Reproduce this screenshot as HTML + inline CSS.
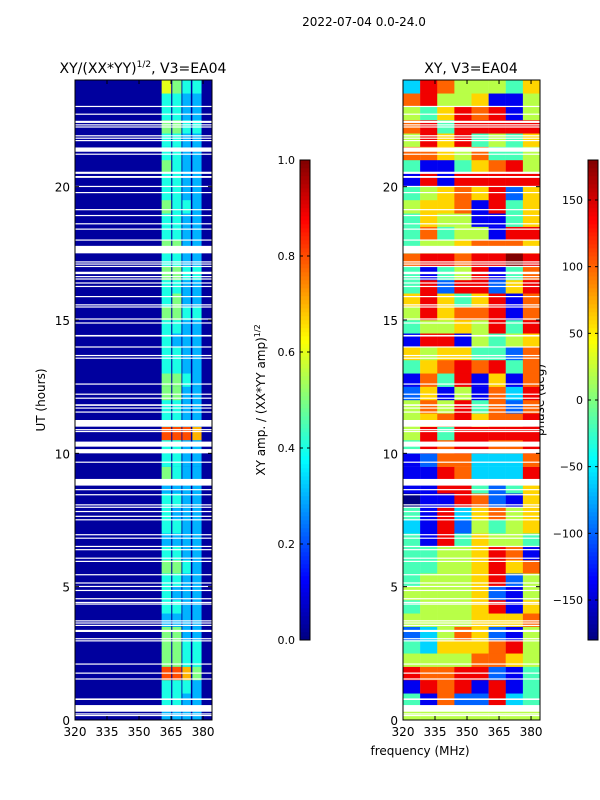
<!DOCTYPE html>
<html><head><meta charset="utf-8"><style>
body{margin:0;background:#fff;}
svg{display:block;font-family:"DejaVu Sans","Liberation Sans",sans-serif;}
</style></head><body>
<svg id="fig" width="600" height="800" viewBox="0 0 600 800" xmlns="http://www.w3.org/2000/svg">
<text x="364" y="26" font-size="12" text-anchor="middle">2022-07-04 0.0-24.0</text>
<text x="143" y="73" font-size="14" text-anchor="middle">XY/(XX*YY)<tspan font-size="9" dy="-6">1/2</tspan><tspan dy="6">, V3=EA04</tspan></text>
<text x="471" y="73" font-size="14" text-anchor="middle">XY, V3=EA04</text>
<text transform="translate(45,400) rotate(-90)" font-size="12" text-anchor="middle">UT (hours)</text>
<text transform="translate(265,400) rotate(-90)" font-size="12" text-anchor="middle">XY amp. / (XX*YY amp)<tspan font-size="8" dy="-5">1/2</tspan></text>
<text transform="translate(544,400) rotate(-90)" font-size="12" text-anchor="middle">phase (deg)</text>
<text x="420" y="755" font-size="12" text-anchor="middle">frequency (MHz)</text>
<g id="left"></g>
<g id="right"></g>
<g id="cb1"></g>
<g id="cb2"></g>
</svg>
<script>
// ---- data ----
const ampFreqEdges = [360.6,365,365.6,369.8,370.3,374.2,375,379.2];
const ampBackground = 0.03;
const ampRows = ["3333","4433","4443","8875","5544","5544","5533","3333","4433","4333","4433","5543","4433","3333","4433","4333","4433","3333","5433","4433","4433","8887","4433","4433","5533","5543","4433","4433","4333","4433","5544","4533","4433","5544","4433","5533","4433","4433","5443","4433","4433","5433","4433","4433","5544","4433","4433","6544"];
const phaseRows = ["55555555","41722834","18781814","87788214","55557765","43666785","23576215","55556667","45556816","55556215","45556825","44556867","44556871","41846554","31825456","41836756","01187216","11884246","11873338","12773337","48788778","58488888","56786778","57584727","26151738","17481617","46787847","65664427","18815456","45565848","58677817","68646817","48288268","41458147","78878898","45567776","47455188","46551146","56671846","45676826","18188888","41146785","77657445","58684546","78488888","54687815","78556115","38755546"];
const gaps = [[0.16,0.19],[0.22,0.25],[0.31,0.56],[0.75,0.81],[1.53,1.56],[1.75,1.78],[2.09,2.12],[2.96,2.99],[3.04,3.07],[3.3,3.38],[3.54,3.57],[3.63,3.66],[3.71,3.74],[4.34,4.37],[4.4,4.43],[4.54,4.57],[4.85,4.88],[5.0,5.03],[5.13,5.16],[5.44,5.47],[5.94,5.97],[6.06,6.09],[6.38,6.41],[6.5,6.53],[6.81,6.84],[6.94,6.97],[7.5,7.53],[7.63,7.66],[7.81,7.84],[7.97,8.0],[8.06,8.09],[8.44,8.47],[8.63,8.66],[8.79,9.04],[9.66,9.69],[10.0,10.16],[10.25,10.44],[10.81,10.84],[10.88,10.91],[11.0,11.25],[11.54,11.57],[11.69,11.72],[11.78,11.84],[12.06,12.09],[12.21,12.24],[12.59,12.62],[13.56,13.59],[13.66,13.69],[13.98,14.01],[14.38,14.44],[14.88,14.91],[15.03,15.06],[15.48,15.51],[15.56,15.59],[15.87,15.9],[16.25,16.28],[16.38,16.41],[16.53,16.56],[16.62,16.65],[16.72,16.81],[17.0,17.03],[17.09,17.12],[17.17,17.2],[17.5,17.78],[17.99,18.02],[18.4,18.43],[18.6,18.63],[18.91,18.94],[19.13,19.16],[19.77,19.8],[20.0,20.03],[20.33,20.4],[20.48,20.56],[21.21,21.24],[21.31,21.47],[21.72,21.75],[21.81,21.84],[21.9,21.93],[22.23,22.26],[22.31,22.34],[22.39,22.47],[22.71,22.74],[23.0,23.03]];
const xTicks = [320,335,350,365,380];
const yTicks = [0,5,10,15,20];
const ampTicks = [0.0,0.2,0.4,0.6,0.8,1.0];
const phaseTicks = [-150,-100,-50,0,50,100,150];

// ---- geometry ----
const NS="http://www.w3.org/2000/svg";
const F0=320,F1=384.2,T0=0,T1=24;
const panels={left:{x0:75,x1:212},right:{x0:403,x1:540}};
const Y0=720,Y1=80;
function yScale(h){return Y0-(h-T0)/(T1-T0)*(Y0-Y1);}
function xScale(p,f){return p.x0+(f-F0)/(F1-F0)*(p.x1-p.x0);}
function jet(v){v=Math.max(0,Math.min(1,v));
 const c=t=>Math.round(255*Math.max(0,Math.min(1,1.5-Math.abs(4*v-t))));
 return `rgb(${c(3)},${c(2)},${c(1)})`;}
function el(tag,attrs,parent){const e=document.createElementNS(NS,tag);for(const k in attrs)e.setAttribute(k,attrs[k]);parent.appendChild(e);return e;}

// amp panel
const L=document.getElementById('left');
const rowH=(T1-T0)/ampRows.length;
const bg=el('rect',{x:75,y:80,width:137,height:640,fill:jet(ampBackground)},L);


ampRows.forEach((row,r)=>{
  for(let c=0;c<4;c++){
    const f0=ampFreqEdges[2*c],f1=ampFreqEdges[2*c+1];
    const x=xScale(panels.left,f0),w=xScale(panels.left,f1)-x;
    const y=yScale((r+1)*rowH),h=yScale(r*rowH)-y;
    const cell=el('rect',{x:x,y:y,width:w+0.2,height:h+0.2,fill:jet(+row[c]/10)},L);
    
    
  }
});
// phase panel
const R=document.getElementById('right');
const pr=(T1-T0)/phaseRows.length;
phaseRows.forEach((row,r)=>{
  const nc=row.length,df=(F1-F0)/nc;
  for(let c=0;c<nc;c++){
    const x=xScale(panels.right,F0+c*df),w=xScale(panels.right,F0+(c+1)*df)-x;
    const y=yScale((r+1)*pr),h=yScale(r*pr)-y;
    const ph=-180+(+row[c])*40;
    const cell=el('rect',{x:x,y:y,width:w+0.2,height:h+0.2,fill:jet((ph+180)/360)},R);
    
    
  }
});
// gaps & axes
[['left',L],['right',R]].forEach(([k,g])=>{
  const p=panels[k];
  gaps.forEach(gp=>{
    const y=yScale(gp[1]),h=yScale(gp[0])-y;
    const r=el('rect',{x:p.x0,y:y,width:p.x1-p.x0,height:Math.max(1.2,h),fill:'#fff'},g);
    
    
  });
  const fr=el('rect',{x:p.x0,y:Y1,width:p.x1-p.x0,height:Y0-Y1,fill:'none',stroke:'#000','stroke-width':1},g);
  
  
  xTicks.forEach(t=>{
    const x=xScale(p,t);
    el('line',{x1:x,x2:x,y1:Y0,y2:Y0-4,stroke:'#000'},g);
    el('line',{x1:x,x2:x,y1:Y1,y2:Y1+4,stroke:'#000'},g);
    const tx=el('text',{x:x,y:Y0+16,'font-size':12,'text-anchor':'middle'},g);tx.textContent=t;
    
    
  });
  yTicks.forEach(t=>{
    const y=yScale(t);
    el('line',{x1:p.x0,x2:p.x0+4,y1:y,y2:y,stroke:'#000'},g);
    el('line',{x1:p.x1,x2:p.x1-4,y1:y,y2:y,stroke:'#000'},g);
    const tx=el('text',{x:p.x0-5,y:y+5,'font-size':12,'text-anchor':'end'},g);tx.textContent=t;
    
    
  });
});
// colorbars
function colorbar(g,x,vmin,vmax,ticks,fmt,id){
  const top=160,bot=640,n=120;
  for(let i=0;i<n;i++){
    const y=bot-(i+1)*(bot-top)/n;
    el('rect',{x:x,y:y,width:10,height:(bot-top)/n+0.3,fill:jet((i+0.5)/n)},g);
  }
  el('rect',{x:x,y:top,width:10,height:bot-top,fill:'none',stroke:'#000'},g);
  ticks.forEach(t=>{
    const y=bot-(t-vmin)/(vmax-vmin)*(bot-top);
    el('line',{x1:x,x2:x+3,y1:y,y2:y,stroke:'#000'},g);
    el('line',{x1:x+10,x2:x+7,y1:y,y2:y,stroke:'#000'},g);
    const tx=el('text',{x:x-5,y:y+4,'font-size':11,'text-anchor':'end'},g);tx.textContent=fmt(t);
    
    
  });
}
colorbar(document.getElementById('cb1'),300,0,1,ampTicks,t=>t.toFixed(1),'amp');
colorbar(document.getElementById('cb2'),588,-180,180,phaseTicks,t=>t<0?'\u2212'+(-t):''+t,'phase');
</script>
</body></html>
